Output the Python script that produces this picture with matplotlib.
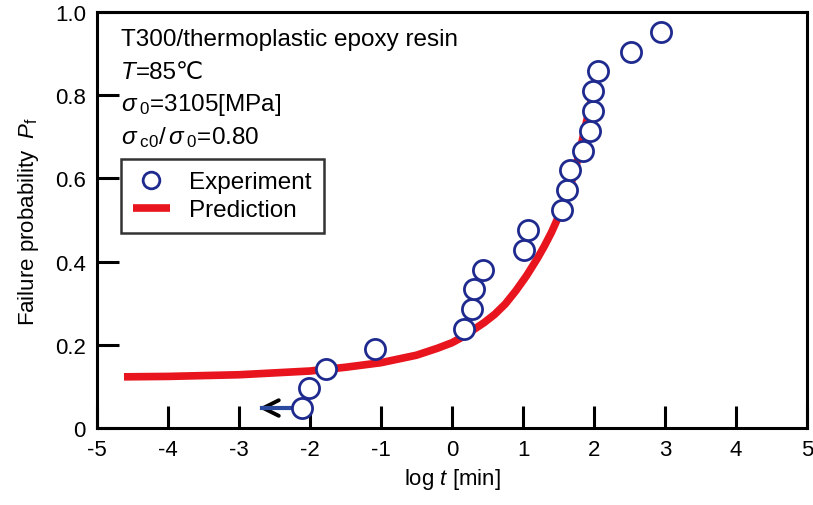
import matplotlib
matplotlib.use("Agg")
import matplotlib.pyplot as plt

# experiment: log t [min] vs failure probability (i/21)
exp_logt = [-2.11, -2.01, -1.77, -1.08, 0.17, 0.28, 0.31, 0.44, 1.01, 1.07,
            1.55, 1.62, 1.66, 1.85, 1.94, 1.99, 1.99, 2.06, 2.52, 2.94]
exp_pf = [0.048, 0.095, 0.143, 0.190, 0.238, 0.286, 0.333, 0.381, 0.429, 0.476,
          0.524, 0.571, 0.619, 0.667, 0.714, 0.762, 0.810, 0.857, 0.905, 0.952]

# prediction curve
pred_logt = [-4.62, -4.0, -3.0, -2.0, -1.5, -1.0, -0.5, -0.2, 0.0, 0.15, 0.3,
             0.45, 0.6, 0.75, 0.9, 1.05, 1.2, 1.3, 1.4, 1.5, 1.6, 1.7, 1.8,
             1.9, 1.97, 2.04]
pred_pf = [0.123, 0.124, 0.128, 0.137, 0.146, 0.157, 0.175, 0.192, 0.205, 0.219,
           0.236, 0.253, 0.273, 0.298, 0.33, 0.366, 0.407, 0.437, 0.47, 0.508,
           0.553, 0.60, 0.665, 0.74, 0.795, 0.85]

# run-out arrow for the first specimen
arrow_from = -2.11
arrow_to = -2.72
arrow_pf = 0.048

xticks = [-5, -4, -3, -2, -1, 0, 1, 2, 3, 4, 5]
yticks = [0, 0.2, 0.4, 0.6, 0.8, 1.0]
ytick_labels = ["0", "0.2", "0.4", "0.6", "0.8", "1.0"]

title_note = "T300/thermoplastic epoxy resin"
temp_note = "=85℃"
stress_notes = [r"$\sigma_{\;\mathrm{0}}$=3105[MPa]",
                r"$\sigma_{\;\mathrm{c0}}/\,\sigma_{\;\mathrm{0}}$=0.80"]

plt.rcParams["font.family"] = ["Liberation Sans", "DejaVu Sans"]
plt.rcParams["mathtext.fontset"] = "custom"
plt.rcParams["mathtext.rm"] = "Liberation Sans"
plt.rcParams["mathtext.it"] = "Liberation Sans:italic"

RED = "#e8141e"
NAVY = "#1f2a8f"
FS = 17.5

fig = plt.figure(figsize=(8.13, 5.06), dpi=100)
ax = fig.add_axes([97 / 813, 1 - 429 / 506, 710 / 813, 416 / 506])

ax.plot(pred_logt, pred_pf, color=RED, lw=5.5, solid_capstyle="butt",
        solid_joinstyle="round", label="Prediction", zorder=2)

# arrow: black chevron head + blue shaft
ax.annotate("", xy=(arrow_to, arrow_pf), xytext=(arrow_to + 0.25, arrow_pf),
            arrowprops=dict(arrowstyle="->", color="black", lw=2.8,
                            mutation_scale=28, shrinkA=0, shrinkB=0), zorder=3)
ax.plot([arrow_from, arrow_to + 0.04], [arrow_pf, arrow_pf], color="#2a4aa0",
        lw=3, zorder=3)

ax.plot(exp_logt, exp_pf, "o", ms=14.5, mfc="white", mec=NAVY, mew=2,
        label="Experiment", zorder=4, ls="none")

ax.set_xlim(-5, 5)
ax.set_ylim(0, 1.0)
ax.set_xticks(xticks)
ax.set_xticklabels([str(t) for t in xticks])
ax.set_yticks(yticks)
ax.set_yticklabels(ytick_labels)
ax.tick_params(direction="in", length=16, width=2.2, labelsize=16, pad=8,
               top=False, right=False)
for s in ax.spines.values():
    s.set_linewidth(2.2)

ax.set_xlabel(r"log $t$ [min]", fontsize=16, labelpad=4)
ax.set_ylabel(r"Failure probability  $P_{\mathrm{f}}$", fontsize=16, labelpad=10)

# condition notes, placed in pixel coords from the top-left
def px(y):
    return 1 - y / 506

x0 = 121 / 813
fig.text(x0, px(40), title_note, fontsize=FS, ha="left", va="center")
t_sym = fig.text(x0, px(72.5), "T", fontsize=FS, ha="left", va="center",
                 style="italic")
ax.annotate(temp_note, xy=(1, 0), xycoords=t_sym, ha="left", va="bottom",
            fontsize=FS, annotation_clip=False)
for i, s in enumerate(stress_notes):
    fig.text(x0, px(105 + i * 32.5), s, fontsize=FS, ha="left", va="center")

handles, labels = ax.get_legend_handles_labels()
leg = ax.legend(handles[::-1], labels[::-1], loc="upper left",
                bbox_to_anchor=(121 / 813, 1 - 160 / 506),
                bbox_transform=fig.transFigure, fontsize=FS, frameon=True,
                fancybox=False, edgecolor="black", handlelength=1.5,
                handletextpad=0.8, borderpad=0.5, labelspacing=0.25,
                borderaxespad=0)
leg.get_frame().set_linewidth(1.8)
leg.legend_handles[0].set_markersize(12)

fig.savefig("out.png", dpi=100)
